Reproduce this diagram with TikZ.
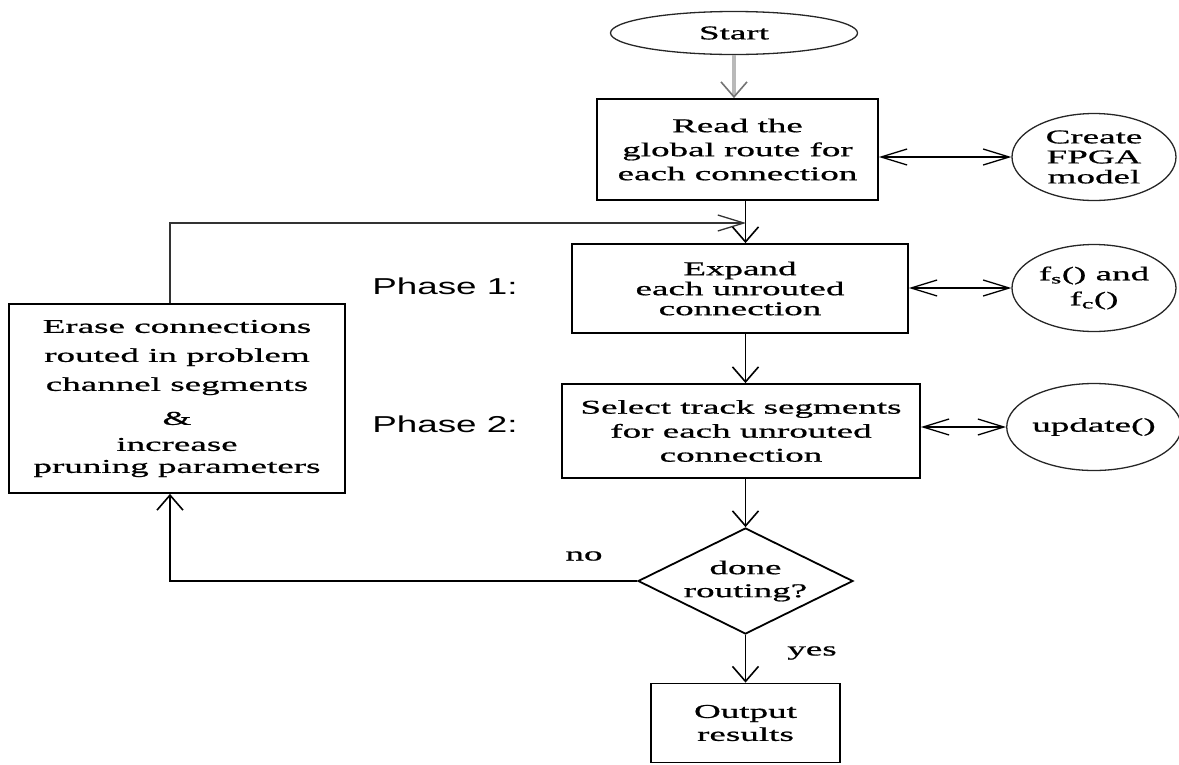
\documentclass[tikz,border=0pt]{standalone}
\usepackage{fontspec}
\setmainfont{Liberation Serif}[FakeStretch=1.9, FakeBold=0.8]
\newfontfamily\phasefont{Liberation Sans}[FakeStretch=1.6]
\usetikzlibrary{positioning, shapes, arrows.meta, calc}

\begin{document}
\begin{tikzpicture}[x=1pt, y=-1pt,
    txt/.style={align=center, inner sep=0pt, font=\fontsize{19.5}{#1}\selectfont},
    txt/.default=23,
    stepbox/.style={rectangle, draw, line width=1.8pt},
    oval/.style={ellipse, draw=black!85, line width=1.3pt},
    vflow/.style={line width=1.6pt, -{Straight Barb[length=15pt, width=26pt]}},
    hflow/.style={line width=1.3pt, -{Straight Barb[length=26pt, width=16pt]}},
    both/.style={line width=1.3pt, {Straight Barb[length=26pt, width=16pt]}-{Straight Barb[length=26pt, width=16pt]}}]
      \useasboundingbox (0,0) rectangle (1179,764);

      \node[oval, txt, minimum width=247, minimum height=43] (start) at (734,33) {Start};
      \node[stepbox, txt=24, minimum width=281, minimum height=101] (read) at (737.5,149.5) {Read the\\global route for\\each connection};
      \node[stepbox, txt=20, minimum width=336, minimum height=89] (expand) at (740,288.5) {Expand\\each unrouted\\connection};
      \node[stepbox, txt=24, minimum width=358, minimum height=94] (select) at (741,431) {Select track segments\\for each unrouted\\connection};
      \node[diamond, draw, line width=1.8pt, aspect=2, txt, minimum width=215, minimum height=106] (dec) at (745.5,581) {done\\routing?};
      \node[stepbox, txt, minimum width=189, minimum height=79] (output) at (745.5,723) {Output\\results};
      \node[stepbox, txt=29, minimum width=336, minimum height=189] (erase) at (177,398.5) {Erase connections\\routed in problem\\channel segments\\[5pt]\&\\[-3pt]increase\\[-7pt]pruning parameters};

      \node[font=\phasefont\fontsize{23}{27}\selectfont] (phase1) at (445,286) {Phase 1:};
      \node[font=\phasefont\fontsize{23}{27}\selectfont] (phase2) at (445,424) {Phase 2:};
      \node[txt] (no) at (584,556) {no};
      \node[txt] (yes) at (812,653) {yes};

      \foreach \n/\b/\y/\s/\t in {create/read/157/20/{Create\\FPGA\\model}, fsfc/expand/288/25/{f\textsubscript{s}() and\\f\textsubscript{c}()}, update/select/427/23/{update()}}{
        \node[oval, txt=\s, minimum width=164, minimum height=87] (\n) at (1094,\y) {\t};
        \draw[both] (\n.west -| \b.east) -- (\n.west);
      }

      \draw[gray!55, line width=4pt, -{Straight Barb[length=15pt, width=26pt, line width=1.6pt, color=black!55]}] (start) -- (start |- read.north);
      \coordinate (merge) at (746,223);
      \draw[vflow] (read.south -| dec) -- (expand.north -| dec);
      \draw[vflow] (expand.south -| dec) -- (select.north -| dec);
      \draw[vflow] (select.south -| dec) -- (dec.north);
      \draw[vflow] (dec.south) -- (output.north);
      \draw[hflow, draw=black!80] ([xshift=-7pt]erase.north) |- (merge);
      \draw[vflow] (dec.west) -| ([xshift=-7pt]erase.south);
    \end{tikzpicture}
\end{document}
